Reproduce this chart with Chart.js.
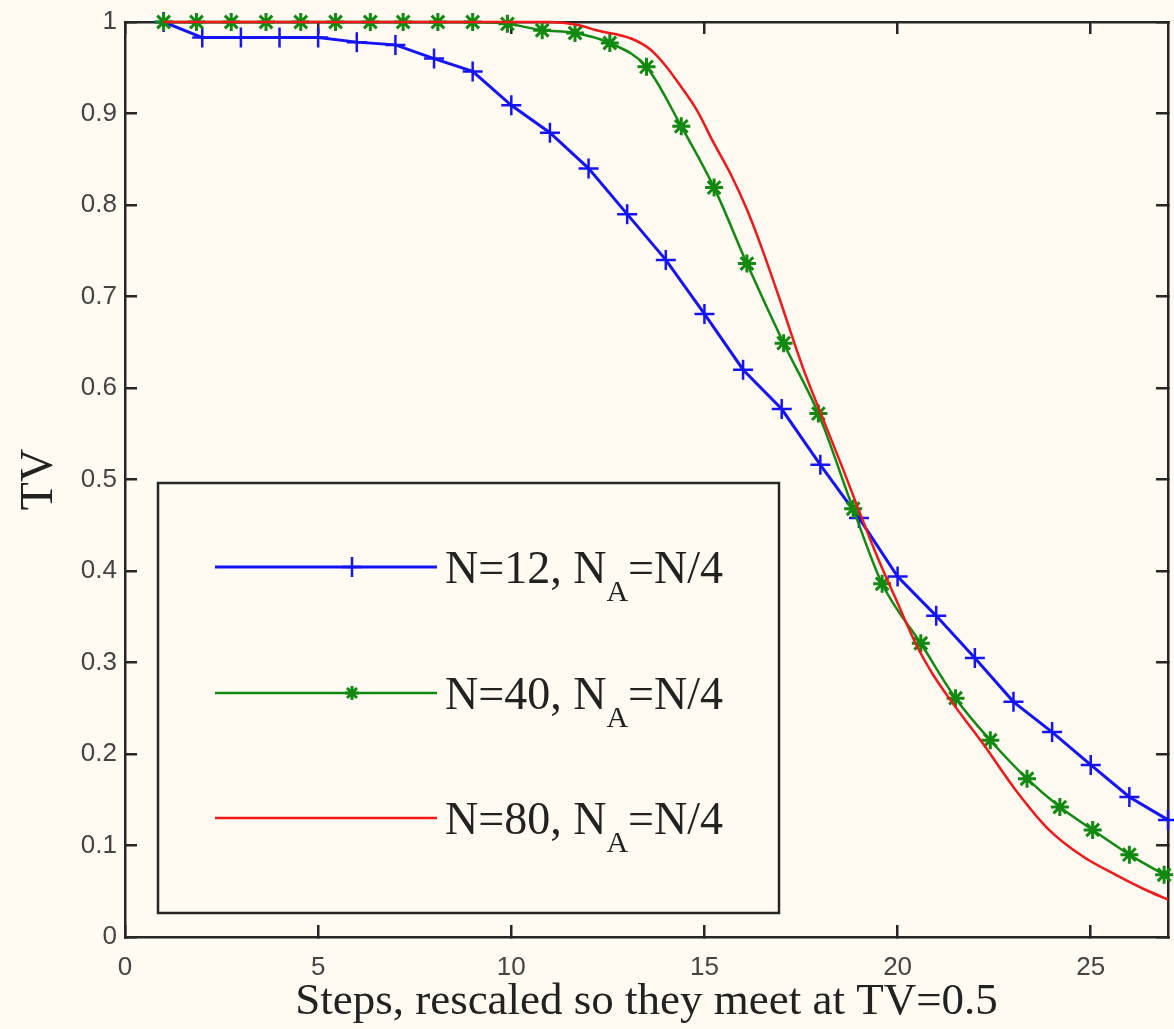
<!DOCTYPE html>
<html>
<head>
<meta charset="utf-8">
<title>TV vs pasos reescalados</title>
<script src="https://cdn.jsdelivr.net/npm/chart.js@4.4.0/dist/chart.umd.min.js"></script>
<style>
  html, body { margin: 0; padding: 0; background: #fffaf2; }
  #contenedor { width: 1174px; height: 1029px; }
</style>
</head>
<body>
<div id="contenedor"><canvas id="myChart" width="1174" height="1029"></canvas></div>
<script>
// ---- datos ----
// N=12 (azul, marcador +)
const azulX = [1, 2, 3, 4, 5, 6, 7, 8, 9, 10, 11, 12, 13, 14, 15, 16, 17, 18, 19, 20, 21, 22, 23, 24, 25, 26, 27];
const azulY = [1.0, 0.983, 0.983, 0.983, 0.983, 0.978, 0.975, 0.960, 0.946, 0.909, 0.879, 0.840, 0.790, 0.740,
               0.681, 0.620, 0.577, 0.516, 0.458, 0.394, 0.351, 0.305, 0.257, 0.224, 0.188, 0.153, 0.128];

// N=40 (verde, marcador *)
const verdeX = [1, 1.85, 2.75, 3.65, 4.55, 5.45, 6.35, 7.2, 8.1, 9.0, 9.9, 10.8, 11.65, 12.55, 13.5, 14.4, 15.25,
                16.1, 17.05, 17.95, 18.85, 19.6, 20.6, 21.5, 22.4, 23.35, 24.2, 25.05, 26.0, 26.9];
const verdeY = [1, 1, 1, 1, 1, 1, 1, 1, 1, 1, 0.998, 0.991, 0.988, 0.977, 0.951, 0.886, 0.819,
                0.736, 0.649, 0.572, 0.468, 0.386, 0.321, 0.261, 0.215, 0.173, 0.142, 0.117, 0.090, 0.068];

// N=80 (rojo, sin marcador)
const rojoX = [1, 3, 5, 7, 9, 11, 11.7, 12.2, 13.1, 13.6, 14.0, 14.4, 14.8, 15.25, 15.7, 16.1, 16.45, 16.9, 17.55,
               18.1, 18.6, 19.0, 19.45, 20.0, 20.5, 20.9, 21.35, 22.2, 23.05, 23.9, 24.8, 25.65, 26.5, 27];
const rojoY = [1, 1, 1, 1, 1, 1, 0.997, 0.991, 0.982, 0.970, 0.952, 0.929, 0.904, 0.867, 0.832, 0.795, 0.757, 0.703, 0.622,
               0.563, 0.510, 0.466, 0.418, 0.365, 0.318, 0.288, 0.260, 0.212, 0.161, 0.118, 0.088, 0.068, 0.050, 0.041];

const etiquetasN = ['N=12', 'N=40', 'N=80'];
const tituloX = 'Steps, rescaled so they meet at TV=0.5';
const tituloY = 'TV';

const fondo = '#fffaf2';
const negro = '#262626';

function puntos(xs, ys) {
    return xs.map((x, i) => ({ x: x, y: ys[i] }));
}

// leyenda dentro del grafico, con el subindice A
const leyendaCaja = {
    id: 'leyendaCaja',
    afterDatasetsDraw(chart) {
        const ctx = chart.ctx;
        const a = chart.chartArea;
        const x0 = a.left + 33, y0 = a.top + 461, w = 621, h = 430;
        ctx.save();
        ctx.fillStyle = fondo;
        ctx.fillRect(x0, y0, w, h);
        ctx.lineWidth = 2.5;
        ctx.strokeStyle = negro;
        ctx.strokeRect(x0, y0, w, h);

        const filas = [545, 671, 796];
        chart.data.datasets.forEach((ds, i) => {
            const y = a.top + filas[i];
            ctx.strokeStyle = ds.borderColor;
            ctx.lineWidth = ds.borderWidth;
            ctx.beginPath();
            ctx.moveTo(a.left + 90, y);
            ctx.lineTo(a.left + 312, y);
            ctx.stroke();

            const mx = a.left + 227;
            if (ds.pointStyle === 'cross') {
                const r = ds.pointRadius;
                ctx.lineWidth = ds.pointBorderWidth;
                ctx.beginPath();
                ctx.moveTo(mx, y - r); ctx.lineTo(mx, y + r);
                ctx.moveTo(mx - r, y); ctx.lineTo(mx + r, y);
                ctx.stroke();
            } else if (ds.pointStyle === 'star') {
                const r = 7;
                ctx.lineWidth = ds.pointBorderWidth;
                ctx.beginPath();
                for (let k = 0; k < 4; k++) {
                    const ang = k * Math.PI / 4;
                    ctx.moveTo(mx - r * Math.cos(ang), y - r * Math.sin(ang));
                    ctx.lineTo(mx + r * Math.cos(ang), y + r * Math.sin(ang));
                }
                ctx.stroke();
            }

            // texto: "N=12, N" + subindice "A" + "=N/4"
            ctx.fillStyle = '#222';
            ctx.textBaseline = 'alphabetic';
            ctx.font = '46px "Liberation Serif"';
            let tx = a.left + 320;
            const parte1 = etiquetasN[i] + ', N';
            ctx.fillText(parte1, tx, y + 16);
            tx += ctx.measureText(parte1).width;
            ctx.font = '30px "Liberation Serif"';
            ctx.fillText('A', tx, y + 34);
            tx += ctx.measureText('A').width;
            ctx.font = '46px "Liberation Serif"';
            ctx.fillText('=N/4', tx, y + 16);
        });
        ctx.restore();
    }
};

const rejilla = { drawOnChartArea: false, drawTicks: true, tickLength: -12, color: negro, lineWidth: 2.5 };
const borde = { color: negro, width: 2.5 };
const fuenteTicks = { family: 'Liberation Sans', size: 26 };

// sin relleno extra de las etiquetas, para fijar el area del grafico
function sinRelleno(s) {
    s.paddingTop = 0; s.paddingBottom = 0; s.paddingLeft = 0; s.paddingRight = 0;
}

window.grafica = new Chart(document.getElementById('myChart'), {
    type: 'line',
    data: {
        datasets: [{
            label: etiquetasN[0],
            data: puntos(azulX, azulY),
            borderColor: '#1414f8',
            borderWidth: 3,
            pointStyle: 'cross',
            pointRadius: 10,
            pointBorderWidth: 2.5,
            pointBorderColor: '#1414f8',
            tension: 0,
            clip: false,
            order: 3
        }, {
            label: etiquetasN[1],
            data: puntos(verdeX, verdeY),
            borderColor: '#128a12',
            borderWidth: 2.5,
            pointStyle: 'star',
            pointRadius: 9,
            pointBorderWidth: 3,
            pointBorderColor: '#128a12',
            cubicInterpolationMode: 'monotone',
            clip: false,
            order: 2
        }, {
            label: etiquetasN[2],
            data: puntos(rojoX, rojoY),
            borderColor: '#f01818',
            borderWidth: 2.5,
            pointRadius: 0,
            cubicInterpolationMode: 'monotone',
            clip: false,
            order: 1
        }]
    },
    options: {
        responsive: false,
        animation: false,
        events: [],
        layout: { autoPadding: false, padding: { top: 22, right: 6, left: 0, bottom: 0 } },
        plugins: { legend: { display: false }, tooltip: { enabled: false } },
        scales: {
            x: {
                type: 'linear', position: 'bottom', min: 0, max: 27,
                ticks: { stepSize: 5, includeBounds: false, autoSkip: false, maxRotation: 0,
                         padding: 27, color: '#444', font: fuenteTicks },
                grid: rejilla, border: borde,
                title: { display: true, text: tituloX, color: '#222',
                         font: { family: 'Liberation Serif', size: 45, lineHeight: 1.2 },
                         padding: { top: 0, bottom: 0 } },
                afterFit: s => { s.height = 92; sinRelleno(s); }
            },
            xArriba: {
                type: 'linear', position: 'top', min: 0, max: 27,
                ticks: { display: false, stepSize: 5, includeBounds: false, autoSkip: false },
                grid: rejilla, border: borde,
                afterFit: s => { s.height = 0; sinRelleno(s); }
            },
            y: {
                type: 'linear', position: 'left', min: 0, max: 1,
                ticks: { stepSize: 0.1, autoSkip: false, padding: 20, color: '#444', font: fuenteTicks,
                         callback: v => String(Math.round(v * 10) / 10) },
                grid: rejilla, border: borde,
                title: { display: true, text: tituloY, color: '#222',
                         font: { family: 'Liberation Serif', size: 46, lineHeight: 1.2 },
                         padding: { top: 12, bottom: 0 } },
                afterFit: s => { s.width = 125; sinRelleno(s); }
            },
            yDerecha: {
                type: 'linear', position: 'right', min: 0, max: 1,
                ticks: { display: false, stepSize: 0.1, autoSkip: false },
                grid: rejilla, border: borde,
                afterFit: s => { s.width = 0; sinRelleno(s); }
            }
        }
    },
    plugins: [leyendaCaja]
});
</script>
</body>
</html>
